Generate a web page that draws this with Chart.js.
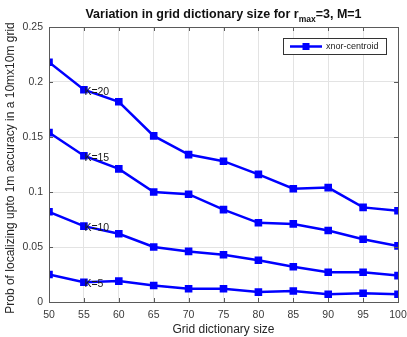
<!DOCTYPE html>
<html>
<head>
<meta charset="utf-8">
<script src="https://cdn.jsdelivr.net/npm/chart.js@4/dist/chart.umd.min.js"></script>
<style>
  html, body { margin: 0; padding: 0; background: #fff; }
  #wrap { width: 407px; height: 337px; position: relative; }
</style>
</head>
<body>
<div id="wrap"><canvas id="c" width="407" height="337"></canvas></div>
<script>
// Grid dictionary sizes (x axis)
const dictSizes = [50, 55, 60, 65, 70, 75, 80, 85, 90, 95, 100];
// Probability of localizing within 1 m, one series per K
const k20 = [0.218, 0.193, 0.182, 0.151, 0.134, 0.128, 0.116, 0.103, 0.104, 0.086, 0.083];
const k15 = [0.154, 0.133, 0.121, 0.100, 0.098, 0.084, 0.072, 0.071, 0.065, 0.057, 0.051];
const k10 = [0.082, 0.069, 0.062, 0.050, 0.046, 0.043, 0.038, 0.032, 0.027, 0.027, 0.024];
const k5  = [0.025, 0.018, 0.019, 0.015, 0.012, 0.012, 0.009, 0.010, 0.007, 0.008, 0.007];
const seriesLabels = ['K=20', 'K=15', 'K=10', 'K=5'];
const yTicks = [0, 0.05, 0.1, 0.15, 0.2, 0.25];
const legendLabel = 'xnor-centroid';

const BLUE = '#0000ff';
const FONT = '"Liberation Sans", Arial, Helvetica, sans-serif';

const allSeries = [k20, k15, k10, k5];
const datasets = allSeries.map((vals, i) => ({
  label: seriesLabels[i],
  data: dictSizes.map((x, j) => ({ x: x, y: vals[j] })),
  borderColor: BLUE,
  backgroundColor: BLUE,
  borderWidth: 2.5,
  pointStyle: 'rect',
  pointRadius: 3.6,
  pointHoverRadius: 3.6,
  tension: 0
}));

// Frame, inward ticks, titles, K annotations and legend box
const decorations = {
  id: 'decorations',
  afterDatasetsDraw(chart) {
    const ctx = chart.ctx;
    const a = chart.chartArea;
    const xs = chart.scales.x, ys = chart.scales.y;
    ctx.save();

    // K labels next to the second point of each curve
    ctx.fillStyle = '#1a1a1a';
    ctx.font = '10.5px ' + FONT;
    ctx.textAlign = 'left';
    ctx.textBaseline = 'middle';
    allSeries.forEach((vals, i) => {
      const px = xs.getPixelForValue(dictSizes[1]);
      const py = ys.getPixelForValue(vals[1]);
      ctx.fillText(seriesLabels[i], px + 0.5, py + 2);
    });

    // axes box
    ctx.strokeStyle = '#5a5a5a';
    ctx.lineWidth = 1;
    ctx.strokeRect(Math.round(a.left) + 0.5, Math.round(a.top) + 0.5,
                   Math.round(a.right - a.left), Math.round(a.bottom - a.top));

    // inward ticks on all four sides
    const tl = 4;
    ctx.beginPath();
    dictSizes.forEach(v => {
      const px = Math.round(xs.getPixelForValue(v)) + 0.5;
      ctx.moveTo(px, a.bottom); ctx.lineTo(px, a.bottom - tl);
      ctx.moveTo(px, a.top); ctx.lineTo(px, a.top + tl);
    });
    yTicks.forEach(v => {
      const py = Math.round(ys.getPixelForValue(v)) + 0.5;
      ctx.moveTo(a.left, py); ctx.lineTo(a.left + tl, py);
      ctx.moveTo(a.right, py); ctx.lineTo(a.right - tl, py);
    });
    ctx.stroke();

    // legend box
    const lx = 283, ly = 38, lw = 103, lh = 16;
    ctx.fillStyle = '#fff';
    ctx.fillRect(lx, ly, lw, lh);
    ctx.strokeStyle = '#333';
    ctx.lineWidth = 1;
    ctx.strokeRect(lx + 0.5, ly + 0.5, lw, lh);
    ctx.strokeStyle = BLUE;
    ctx.lineWidth = 2.5;
    ctx.beginPath();
    ctx.moveTo(lx + 7, ly + lh / 2 + 0.5);
    ctx.lineTo(lx + 39, ly + lh / 2 + 0.5);
    ctx.stroke();
    ctx.fillStyle = BLUE;
    ctx.fillRect(lx + 23 - 3.5, ly + lh / 2 + 0.5 - 3.5, 7, 7);
    ctx.fillStyle = '#222';
    ctx.font = '9px ' + FONT;
    ctx.textAlign = 'left';
    ctx.textBaseline = 'middle';
    ctx.fillText(legendLabel, lx + 43, ly + lh / 2 + 1);

    // title with subscript
    const cx = (a.left + a.right) / 2;
    const part1 = 'Variation in grid dictionary size for r';
    const sub = 'max';
    const part2 = '=3, M=1';
    const fMain = 'bold 12.5px ' + FONT;
    const fSub = 'bold 8.5px ' + FONT;
    ctx.fillStyle = '#111';
    ctx.textBaseline = 'alphabetic';
    ctx.font = fMain;
    const w1 = ctx.measureText(part1).width;
    const w3 = ctx.measureText(part2).width;
    ctx.font = fSub;
    const w2 = ctx.measureText(sub).width;
    let x0 = cx - (w1 + w2 + w3) / 2;
    ctx.textAlign = 'left';
    ctx.font = fMain;
    ctx.fillText(part1, x0, 18);
    ctx.font = fSub;
    ctx.fillText(sub, x0 + w1, 22);
    ctx.font = fMain;
    ctx.fillText(part2, x0 + w1 + w2, 18);

    // axis titles
    ctx.font = '12px ' + FONT;
    ctx.fillStyle = '#262626';
    ctx.textAlign = 'center';
    ctx.textBaseline = 'middle';
    ctx.fillText('Grid dictionary size', cx, 330);
    ctx.translate(11, 168);
    ctx.rotate(-Math.PI / 2);
    ctx.fillText('Prob of localizing upto 1m accuracy in a 10mx10m grid', 0, 0);
    ctx.restore();
  }
};

new Chart(document.getElementById('c'), {
  type: 'line',
  data: { datasets: datasets },
  options: {
    responsive: false,
    animation: false,
    events: [],
    layout: { padding: { left: 0, right: 9, top: 27, bottom: 0 } },
    plugins: {
      legend: { display: false },
      title: { display: false },
      tooltip: { enabled: false }
    },
    scales: {
      x: {
        type: 'linear',
        min: 50, max: 100,
        afterFit(s) { s.height = 35; s.paddingLeft = 0; s.paddingRight = 0; },
        afterBuildTicks(s) { s.ticks = dictSizes.map(v => ({ value: v })); },
        ticks: { color: '#3a3a3a', font: { family: FONT, size: 10.5 }, padding: 7, maxRotation: 0,
                 callback: v => String(v) },
        grid: { color: '#e3e3e3', lineWidth: 1, drawTicks: false },
        border: { display: false }
      },
      y: {
        min: 0, max: 0.25,
        afterFit(s) { s.width = 49; s.paddingTop = 0; s.paddingBottom = 0; },
        afterBuildTicks(s) { s.ticks = yTicks.map(v => ({ value: v })); },
        ticks: { color: '#3a3a3a', font: { family: FONT, size: 10.5 }, padding: 6,
                 callback: v => String(Math.round(v * 100) / 100) },
        grid: { color: '#e3e3e3', lineWidth: 1, drawTicks: false },
        border: { display: false }
      }
    }
  },
  plugins: [decorations]
});
</script>
</body>
</html>
